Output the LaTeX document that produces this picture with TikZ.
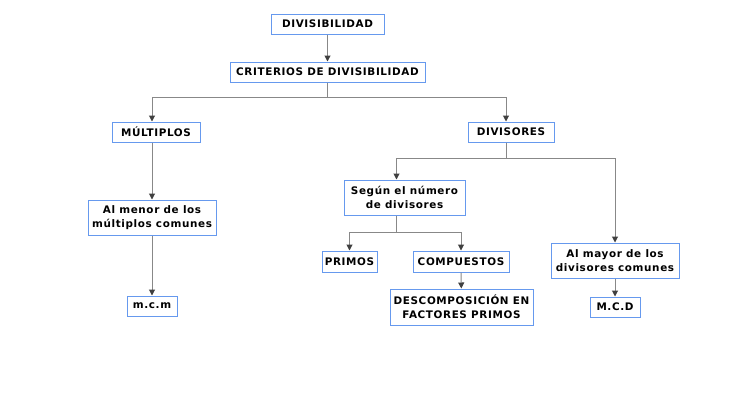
\documentclass[tikz,border=0pt]{standalone}
\usepackage{fontspec}
\setmainfont[LetterSpace=6]{DejaVu Sans}
\usetikzlibrary{arrows.meta}
\definecolor{boxblue}{RGB}{102,153,238}
\definecolor{linkgray}{RGB}{136,136,136}
\definecolor{tipgray}{RGB}{64,64,64}

\begin{document}
\begin{tikzpicture}[
  x=0.75pt, y=-0.75pt,
  font=\fontsize{7.8}{10.5}\selectfont\bfseries,
  concept/.style={draw=boxblue, line width=0.75pt, fill=white, align=center, inner sep=0pt},
  sz/.style 2 args={minimum width=#1*0.75pt, minimum height=#2*0.75pt},
  link/.style={draw=linkgray, line width=0.75pt},
  arr/.style={link, -{Triangle[length=4.5pt, width=4.5pt, color=tipgray]}}
]
\fill[white] (0,0) rectangle (742,401);
\useasboundingbox (0,0) rectangle (742,401);

% concepts
\node[concept, sz={113}{20}] (divis) at (327.5,24) {DIVISIBILIDAD};
\node[concept, sz={195}{20}] (crit) at (327.5,72) {CRITERIOS DE DIVISIBILIDAD};
\node[concept, sz={88}{20}] (mult) at (156,132) {MÚLTIPLOS};
\node[concept, sz={86}{20}] (divs) at (511,132) {DIVISORES};
\node[concept, sz={128}{35}] (menor) at (152,217.5) {Al menor de los\\múltiplos comunes};
\node[concept, sz={50}{20}] (mcm) at (152,306) {m.c.m};
\node[concept, sz={121}{35}] (segun) at (404.5,197.5) {Según el número\\de divisores};
\node[concept, sz={55}{21}] (primos) at (349.5,261.5) {PRIMOS};
\node[concept, sz={96}{21}] (comp) at (461,261.5) {COMPUESTOS};
\node[concept, sz={143}{36}] (desc) at (461.5,307) {DESCOMPOSICIÓN EN\\FACTORES PRIMOS};
\node[concept, sz={128}{35}] (mayor) at (615,260.5) {Al mayor de los\\divisores comunes};
\node[concept, sz={50}{20}] (mcd) at (615,307) {M.C.D};

% links
\draw[arr] (divis) -- (crit);
\draw[arr] (crit.south) -- ++(0,15) -| ([xshift=-3pt]mult.north);
\draw[arr] (crit.south) -- ++(0,15) -| ([xshift=-3.75pt]divs.north);
\draw[arr] ([xshift=-3pt]mult.south) -- (menor);
\draw[arr] (menor) -- (mcm);
\draw[arr] ([xshift=-3.75pt]divs.south) -- ++(0,16) -| ([xshift=-6pt]segun.north);
\draw[arr] ([xshift=-3.75pt]divs.south) -- ++(0,16) -| (mayor.north);
\draw[arr] ([xshift=-6pt]segun.south) -- ++(0,17) -| (primos.north);
\draw[arr] ([xshift=-6pt]segun.south) -- ++(0,17) -| (comp.north);
\draw[arr] (comp) -- (desc);
\draw[arr] (mayor) -- (mcd);
\end{tikzpicture}
\end{document}
